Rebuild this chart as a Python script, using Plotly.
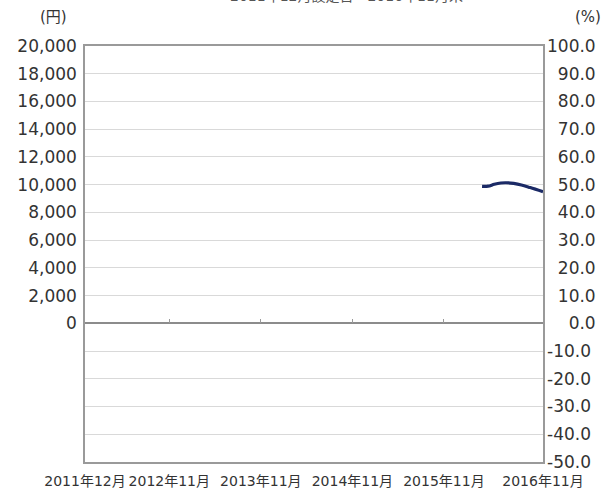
import plotly.graph_objects as go

# Data
nav_dates = ["2016-04-01", "2016-04-25", "2016-05-20", "2016-06-15", "2016-07-05",
             "2016-08-05", "2016-09-05", "2016-10-10", "2016-11-30"]
nav_values = [9880, 9890, 10030, 10120, 10140, 10090, 9980, 9790, 9490]

x_tick_vals = ["2011-12-01", "2012-11-01", "2013-11-01", "2014-11-01", "2015-11-01", "2016-11-30"]
x_tick_text = ["2011年12月", "2012年11月", "2013年11月", "2014年11月", "2015年11月", "2016年11月"]
inner_tick_vals = ["2012-11-01", "2013-11-01", "2014-11-01", "2015-11-01"]

left_tick_vals = list(range(0, 20001, 2000))
left_tick_text = [f"{v:,}" for v in left_tick_vals]

right_tick_vals = list(range(-50, 101, 10))
FS = "\u2007"  # figure space (digit width) for right-aligned labels
right_tick_text = []
for v in right_tick_vals:
    s = f"{v:.1f}"
    pad = 5 - len(s) if v >= 0 else 0
    right_tick_text.append(FS * max(pad, 0) + s)

x_range = ["2011-12-01", "2016-11-30"]

font_family = "DejaVu Sans, Noto Sans CJK JP, sans-serif"
txt = "#333333"
frame = "#9a9a9a"

fig = go.Figure()
fig.add_trace(go.Scatter(
    x=nav_dates, y=nav_values, mode="lines",
    line=dict(color="#1b2a66", width=3.2, shape="spline"),
    yaxis="y", xaxis="x", showlegend=False, hoverinfo="skip"))
fig.add_trace(go.Scatter(x=x_range, y=[None, None], yaxis="y2", xaxis="x",
                         showlegend=False, hoverinfo="skip"))
fig.add_trace(go.Scatter(x=x_range, y=[None, None], yaxis="y", xaxis="x2",
                         showlegend=False, hoverinfo="skip"))

fig.update_layout(
    width=606, height=498,
    margin=dict(l=85, r=63, t=46, b=36),
    paper_bgcolor="white", plot_bgcolor="white",
    font=dict(family=font_family, color=txt, size=16),
    xaxis=dict(
        type="date", range=x_range, automargin=False,
        tickmode="array", tickvals=x_tick_vals, ticktext=x_tick_text,
        tickfont=dict(size=14, color=txt), ticks="", showgrid=False,
        showline=True, linecolor=frame, linewidth=1.5, mirror=True,
        zeroline=False, tickangle=0, ticklabelstandoff=5,
    ),
    xaxis2=dict(
        type="date", range=x_range, overlaying="x", anchor="free", position=1/3,
        tickmode="array", tickvals=inner_tick_vals, showticklabels=False,
        ticks="inside", ticklen=4, tickcolor=frame, tickwidth=1,
        showgrid=False, showline=False, zeroline=False, automargin=False,
    ),
    yaxis=dict(
        range=[-10000, 20000], tickmode="array", tickvals=left_tick_vals,
        ticktext=left_tick_text, tickfont=dict(size=17, color=txt),
        showgrid=False, zeroline=False, ticks="", automargin=False,
        showline=True, linecolor=frame, linewidth=1.5, mirror=True,
        ticklabelstandoff=3,
    ),
    yaxis2=dict(
        range=[-50, 100], overlaying="y", side="right",
        tickmode="array", tickvals=right_tick_vals, ticktext=right_tick_text,
        tickfont=dict(size=17, color=txt), automargin=False,
        showgrid=True, gridcolor="#d9d9d9", gridwidth=1,
        zeroline=True, zerolinecolor="#8c8c8c", zerolinewidth=1.5,
        showline=False, ticks="", ticklabelstandoff=3,
    ),
    annotations=[
        dict(text="(円)", xref="paper", yref="paper", x=0, y=1, xanchor="right",
             yanchor="middle", xshift=-16, yshift=29, showarrow=False,
             font=dict(size=15, color=txt)),
        dict(text="(%)", xref="paper", yref="paper", x=1, y=1, xanchor="right",
             yanchor="middle", xshift=60, yshift=29, showarrow=False,
             font=dict(size=15, color=txt)),
        dict(text="2011年12月設定日～2016年11月末", xref="paper", yref="paper",
             x=0.57, y=1, xanchor="center", yanchor="bottom", yshift=40,
             showarrow=False, font=dict(size=14, color="#555555")),
    ],
)

fig.write_html("out.html", config={"displayModeBar": False},
               post_script="document.body.style.margin='0';")
